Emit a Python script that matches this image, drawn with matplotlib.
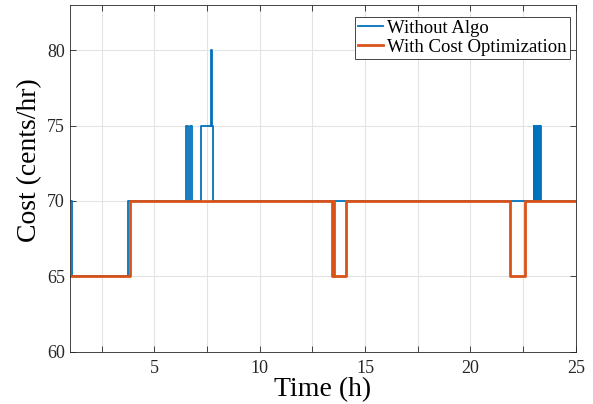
import matplotlib
matplotlib.use("Agg")
import matplotlib.pyplot as plt
from matplotlib.ticker import MultipleLocator

# -- Data (step series, value holds until next time point) -------------------

T_BASE = [1.0, 1.1, 3.75, 6.5, 6.6, 6.7, 6.8, 7.2, 7.7, 7.72, 7.77,
          23.0, 23.04, 23.08, 23.12, 23.16, 23.2, 23.24, 23.28, 23.32, 23.36, 23.4, 25.0]
C_BASE = [70, 65, 70, 75, 70, 75, 70, 75, 80, 75, 70,
          75, 70, 75, 70, 75, 70, 75, 70, 75, 70, 70, 70]

T_OPT = [1.0, 3.85, 13.45, 13.5, 13.55, 14.1, 21.9, 22.6, 25.0]
C_OPT = [65, 70, 65, 70, 65, 70, 65, 70, 70]

BLUE = "#0072BD"
ORANGE = "#D95319"

plt.rcParams["font.family"] = ["Liberation Serif", "DejaVu Serif"]

fig = plt.figure(figsize=(5.93, 4.04), dpi=100)
ax = fig.add_axes([0.118, 0.129, 0.853, 0.859])

ax.plot(T_BASE, C_BASE, drawstyle="steps-post", color=BLUE, linewidth=1.3,
        label="Without Algo")
ax.plot(T_OPT, C_OPT, drawstyle="steps-post", color=ORANGE, linewidth=2.0,
        label="With Cost Optimization")

ax.set_xlim(1, 25)
ax.set_ylim(60, 83)
ax.set_xticks([5, 10, 15, 20, 25])
ax.xaxis.set_minor_locator(MultipleLocator(2.5))
ax.set_yticks([60, 65, 70, 75, 80])

ax.grid(True, which="both", axis="x", color="#e3e3e3", linewidth=0.8)
ax.grid(True, which="major", axis="y", color="#e3e3e3", linewidth=0.8)
ax.set_axisbelow(True)

ax.tick_params(which="both", direction="in", top=True, right=True,
               colors="#262626", labelsize=13, length=4, width=0.6)
ax.tick_params(axis="x", pad=6)
for s in ax.spines.values():
    s.set_color("#262626")
    s.set_linewidth(0.6)

ax.set_xlabel("Time (h)", fontsize=20, labelpad=0)
ax.set_ylabel("Cost (cents/hr)", fontsize=20)
ax.yaxis.set_label_coords(-0.056, 0.553)

leg = ax.legend(loc="upper right", bbox_to_anchor=(0.988, 0.965),
                fontsize=13.5, fancybox=False, framealpha=1,
                edgecolor="#262626", handlelength=1.3, handletextpad=0.25,
                borderpad=0.15, labelspacing=0.1, borderaxespad=0)
leg.get_frame().set_linewidth(0.6)

fig.savefig("out.png", dpi=100)
